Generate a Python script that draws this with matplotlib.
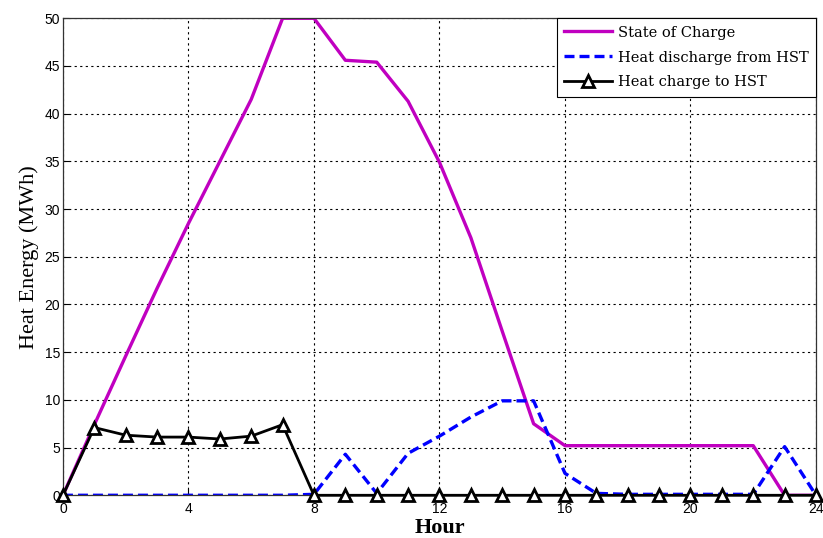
import matplotlib.pyplot as plt
import numpy as np

hours = np.arange(0, 25)

state_of_charge = [0, 7.4, 14.6, 21.7, 28.5, 35.0, 41.5, 50.0, 50.0, 45.6, 45.4,
                   41.3, 34.9, 27.0, 17.2, 7.5, 5.2, 5.2, 5.2, 5.2, 5.2,
                   5.2, 5.2, 0.0, 0.0]
heat_discharge = [0, 0, 0, 0, 0, 0, 0, 0, 0.1, 4.3, 0.2,
                  4.4, 6.2, 8.2, 9.9, 9.9, 2.3, 0.2, 0.1, 0.1, 0.1,
                  0.1, 0.1, 5.1, 0.0]
heat_charge = [0, 7.1, 6.3, 6.1, 6.1, 5.9, 6.2, 7.4, 0, 0, 0,
               0, 0, 0, 0, 0, 0, 0, 0, 0, 0,
               0, 0, 0, 0]

xticks = [0, 4, 8, 12, 16, 20, 24]
yticks = list(range(0, 51, 5))

fig = plt.figure(figsize=(8.23, 5.38), dpi=100)
ax = fig.add_axes([0.0765, 0.0794, 0.915, 0.8866])

ax.plot(hours, state_of_charge, color="#C000C0", lw=2.4, label="State of Charge")
ax.plot(hours, heat_discharge, color="#0000FF", lw=2.4, ls=(0, (3, 1.5)),
        label="Heat discharge from HST")
ax.plot(hours, heat_charge, color="black", lw=2.0, marker="^", markersize=8,
        markerfacecolor="white", markeredgecolor="black", markeredgewidth=2.0,
        label="Heat charge to HST", clip_on=False, zorder=3)

ax.set_xlim(0, 24)
ax.set_ylim(0, 50)
ax.set_xticks(xticks)
ax.set_yticks(yticks)
ax.tick_params(direction="in", labelsize=10, length=4)
ax.tick_params(axis="x", pad=5)
ax.tick_params(axis="y", pad=2)
for lab in ax.get_xticklabels() + ax.get_yticklabels():
    lab.set_family("Liberation Sans")
ax.grid(True, color="black", ls=(0, (2, 3)), lw=0.8)
for s in ax.spines.values():
    s.set_color("#333333")
    s.set_linewidth(0.9)

ax.set_xlabel("Hour", family="Liberation Serif", fontsize=16, fontweight="bold",
              labelpad=1)
ax.set_ylabel("Heat Energy (MWh)", family="Liberation Serif", fontsize=16,
              labelpad=4)

leg = ax.legend(loc="upper right", prop={"family": "DejaVu Serif", "size": 10.5},
                fancybox=False, framealpha=1, edgecolor="black", handlelength=3.3,
                handletextpad=0.4, borderaxespad=0, borderpad=0.5, labelspacing=0.75)
leg.get_frame().set_linewidth(0.8)

fig.savefig("out.png", dpi=100)
